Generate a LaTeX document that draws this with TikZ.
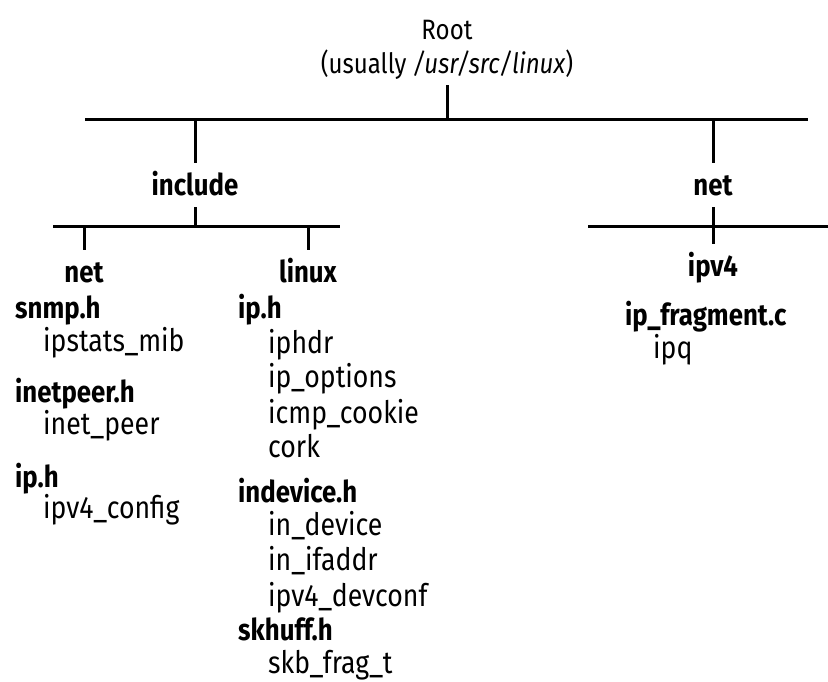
\documentclass[tikz,border=0pt]{standalone}
\usepackage{fontspec}
\setmainfont{Fira Sans}[FakeStretch=0.86]

\tikzset{
  tree/.style={line width=3pt},
  lvl/.style={font=\fontsize{30}{32}\selectfont\bfseries, anchor=base,
    text height=20pt, text depth=0pt, inner sep=12pt},
  hfile/.style={font=\fontsize{30}{32}\selectfont\bfseries, anchor=base west, inner sep=0pt},
  member/.style={font=\fontsize{31}{33}\selectfont, anchor=base west, inner sep=0pt},
}

\begin{document}
\begin{tikzpicture}[x=1pt, y=-1pt]
  \useasboundingbox (0,0) rectangle (828,681);

  % Root
  \node[font=\fontsize{28}{30}\selectfont, anchor=base, inner sep=0pt] (root) at (447,39) {Root};
  \node[font=\fontsize{28}{30}\selectfont, anchor=base, inner sep=6pt] (rootdir) at (447,73)
    {(usually \textit{/usr/src/linux})};

  % Top level bar
  \coordinate (topL) at (85,119);
  \coordinate (topR) at (808,119);
  \draw[tree] (rootdir.south) -- (rootdir.south |- topL);
  \draw[tree] (topL) -- (topR);

  % include and net
  \node[lvl] (include) at (195,195) {include};
  \node[lvl] (net) at (713,195) {net};
  \draw[tree] (include.north |- topL) -- (include.north);
  \draw[tree] (net.north |- topL) -- (net.north);

  % include bar
  \coordinate (incL) at (53,226);
  \coordinate (incR) at (340,226);
  \draw[tree] (incL) -- (incR);
  \draw[tree] (include.south) -- (include.south |- incL);
  \node[lvl] (incnet) at (84,282) {net};
  \node[lvl] (inclinux) at (308,282) {linux};
  \draw[tree] (incnet.north |- incL) -- (incnet.north);
  \draw[tree] (inclinux.north |- incL) -- (inclinux.north);

  % net bar
  \coordinate (netL) at (588,226);
  \coordinate (netR) at (828,226);
  \draw[tree] (netL) -- (netR);
  \node[lvl] (ipv4) at (713,276) {ipv4};
  \draw[tree] (net.south) -- (ipv4.north);

  % include/net
  \node[hfile] (snmp) at (15,318) {snmp.h};
  \node[member] (ipstats) at (43,351) {ipstats\_mib};
  \node[hfile] (inetpeer) at (15,402) {inetpeer.h};
  \node[member] (inetp) at (43,434) {inet\_peer};
  \node[hfile] (iph) at (15,487) {ip.h};
  \node[member] (ipvconf) at (43,518) {ipv4\_config};

  % include/linux
  \node[hfile] (lip) at (238,318) {ip.h};
  \node[member] (iphdr) at (268,353) {iphdr};
  \node[member] (ipopt) at (268,387) {ip\_options};
  \node[member] (icmp) at (268,423) {icmp\_cookie};
  \node[member] (cork) at (268,457) {cork};
  \node[hfile] (indev) at (238,502) {indevice.h};
  \node[member] (indevice) at (268,535) {in\_device};
  \node[member] (inifaddr) at (268,570) {in\_ifaddr};
  \node[member] (devconf) at (268,606) {ipv4\_devconf};
  \node[hfile] (skhuff) at (238,640) {skhuff.h};
  \node[member] (skbfrag) at (268,673) {skb\_frag\_t};

  % net/ipv4
  \node[hfile] (ipfrag) at (625,325) {ip\_fragment.c};
  \node[member] (ipq) at (653,358) {ipq};
\end{tikzpicture}
\end{document}
